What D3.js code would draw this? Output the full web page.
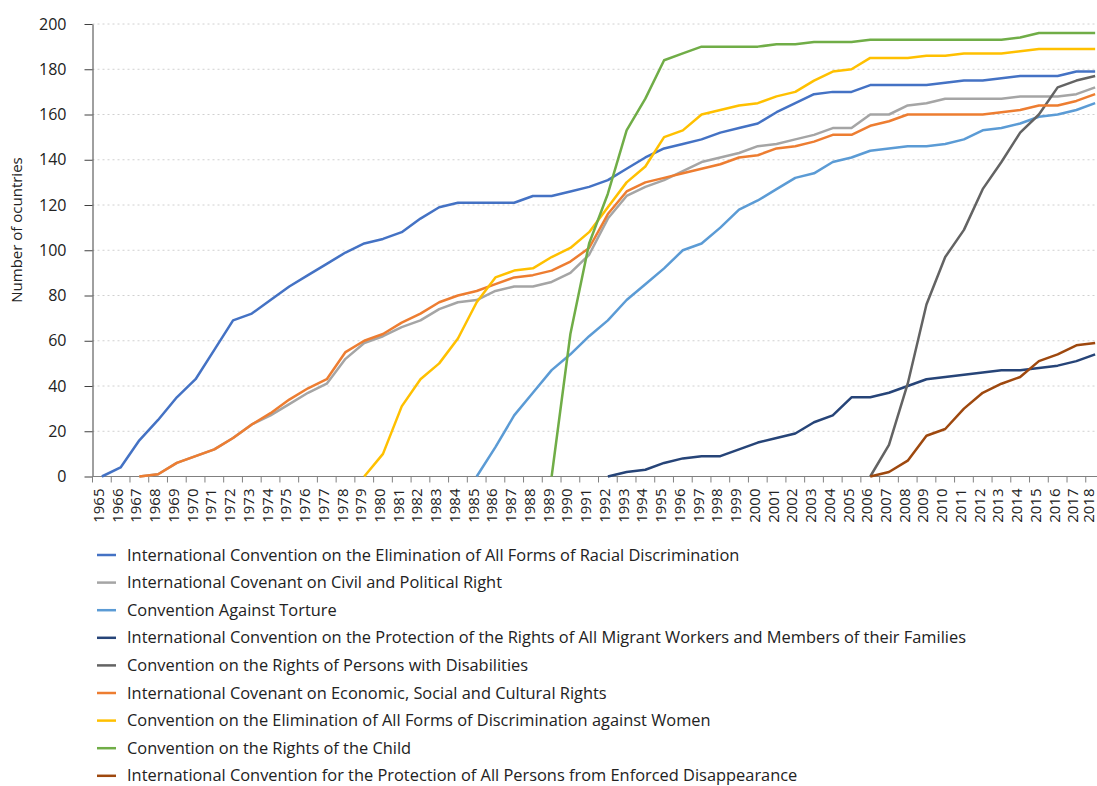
<!DOCTYPE html>
<html>
<head>
<meta charset="utf-8">
<script src="https://cdn.jsdelivr.net/npm/d3@7"></script>
<style>
  body { margin: 0; background: #fff; }
  svg { display: block; font-family: "Open Sans", "Liberation Sans", Arial, sans-serif; }
</style>
</head>
<body>
<div class="chart-container"></div>
<script>
// years on the category axis
const years = d3.range(1965, 2019);
const yTicks = [0, 20, 40, 60, 80, 100, 120, 140, 160, 180, 200];

// each series: first year, then one value per year
const icerdStart = 1965;
const icerd = [0, 4, 16, 25, 35, 43, 56, 69, 72, 78, 84, 89, 94, 99, 103, 105, 108, 114, 119, 121, 121, 121, 121, 124, 124, 126, 128, 131, 136, 141, 145, 147, 149, 152, 154, 156, 161, 165, 169, 170, 170, 173, 173, 173, 173, 174, 175, 175, 176, 177, 177, 177, 179, 179];
const iccprStart = 1967;
const iccpr = [0, 1, 6, 9, 12, 17, 23, 27, 32, 37, 41, 52, 59, 62, 66, 69, 74, 77, 78, 82, 84, 84, 86, 90, 98, 114, 124, 128, 131, 135, 139, 141, 143, 146, 147, 149, 151, 154, 154, 160, 160, 164, 165, 167, 167, 167, 167, 168, 168, 168, 169, 172];
const catStart = 1985;
const cat = [0, 13, 27, 37, 47, 54, 62, 69, 78, 85, 92, 100, 103, 110, 118, 122, 127, 132, 134, 139, 141, 144, 145, 146, 146, 147, 149, 153, 154, 156, 159, 160, 162, 165];
const icrmwStart = 1992;
const icrmw = [0, 2, 3, 6, 8, 9, 9, 12, 15, 17, 19, 24, 27, 35, 35, 37, 40, 43, 44, 45, 46, 47, 47, 48, 49, 51, 54];
const crpdStart = 2006;
const crpd = [0, 14, 41, 76, 97, 109, 127, 139, 152, 160, 172, 175, 177];
const icescrStart = 1967;
const icescr = [0, 1, 6, 9, 12, 17, 23, 28, 34, 39, 43, 55, 60, 63, 68, 72, 77, 80, 82, 85, 88, 89, 91, 95, 101, 116, 126, 130, 132, 134, 136, 138, 141, 142, 145, 146, 148, 151, 151, 155, 157, 160, 160, 160, 160, 160, 161, 162, 164, 164, 166, 169];
const cedawStart = 1979;
const cedaw = [0, 10, 31, 43, 50, 61, 77, 88, 91, 92, 97, 101, 108, 119, 130, 137, 150, 153, 160, 162, 164, 165, 168, 170, 175, 179, 180, 185, 185, 185, 186, 186, 187, 187, 187, 188, 189, 189, 189, 189];
const crcStart = 1989;
const crc = [0, 63, 103, 125, 153, 167, 184, 187, 190, 190, 190, 190, 191, 191, 192, 192, 192, 193, 193, 193, 193, 193, 193, 193, 193, 194, 196, 196, 196, 196];
const cpedStart = 2006;
const cped = [0, 2, 7, 18, 21, 30, 37, 41, 44, 51, 54, 58, 59];

const seriesNames = [
  "International Convention on the Elimination of All Forms of Racial Discrimination",
  "International Covenant on Civil and Political Right",
  "Convention Against Torture",
  "International Convention on the Protection of the Rights of All Migrant Workers and Members of their Families",
  "Convention on the Rights of Persons with Disabilities",
  "International Covenant on Economic, Social and Cultural Rights",
  "Convention on the Elimination of All Forms of Discrimination against Women",
  "Convention on the Rights of the Child",
  "International Convention for the Protection of All Persons from Enforced Disappearance"
];
const seriesColors = ["#4472C4", "#A5A5A5", "#5B9BD5", "#264478", "#636363", "#ED7D31", "#FFC000", "#70AD47", "#9E480E"];
const seriesStarts = [icerdStart, iccprStart, catStart, icrmwStart, crpdStart, icescrStart, cedawStart, crcStart, cpedStart];
const seriesValues = [icerd, iccpr, cat, icrmw, crpd, icescr, cedaw, crc, cped];

const series = seriesNames.map((name, i) => ({
  name,
  color: seriesColors[i],
  points: seriesValues[i].map((v, j) => ({ year: seriesStarts[i] + j, value: v }))
}));

const width = 1097, height = 786;
const plotLeft = 92.5, plotRight = 1104.5, plotTop = 24, plotBottom = 476.5;

const svg = d3.select(".chart-container").append("svg")
  .attr("width", width)
  .attr("height", height);

const x = d3.scaleBand()
  .domain(years)
  .range([plotLeft, plotRight]);

const y = d3.scaleLinear()
  .domain([0, 200])
  .range([plotBottom, plotTop]);

// dotted gridlines
svg.append("g")
  .selectAll("line")
  .data(yTicks.filter(d => d > 0))
  .enter()
  .append("line")
  .attr("x1", plotLeft)
  .attr("x2", width)
  .attr("y1", d => y(d))
  .attr("y2", d => y(d))
  .attr("stroke", "#d0d0d0")
  .attr("stroke-width", 1)
  .attr("stroke-dasharray", "2,3");

// y axis
const yAxis = svg.append("g")
  .attr("transform", `translate(${plotLeft},0)`)
  .call(d3.axisLeft(y).tickValues(yTicks).tickSize(8).tickSizeOuter(0).tickPadding(18));
yAxis.select(".domain").attr("stroke", "#404040");
yAxis.selectAll(".tick line").attr("stroke", "#404040");
yAxis.selectAll("text").attr("font-size", 16).attr("fill", "#222").attr("font-family", "Open Sans");

// x axis: ticks between categories
const xAxisG = svg.append("g")
  .attr("transform", `translate(0,${y(0)})`);
xAxisG.append("line")
  .attr("x1", plotLeft)
  .attr("x2", width)
  .attr("stroke", "#808080")
  .attr("stroke-width", 1.2);
xAxisG.selectAll(".tick-mark")
  .data(years)
  .enter()
  .append("line")
  .attr("class", "tick-mark")
  .attr("x1", d => x(d))
  .attr("x2", d => x(d))
  .attr("y1", 0)
  .attr("y2", 6)
  .attr("stroke", "#808080");
xAxisG.selectAll(".tick-label")
  .data(years)
  .enter()
  .append("text")
  .attr("class", "tick-label")
  .attr("transform", d => `translate(${Math.min(x(d) + x.bandwidth() / 2 + 2, width - 3)},12) rotate(-90)`)
  .attr("text-anchor", "end")
  .attr("font-size", 15)
  .attr("fill", "#222")
  .text(d => d);

// y axis title
svg.append("text")
  .attr("transform", `translate(22,230) rotate(-90)`)
  .attr("text-anchor", "middle")
  .attr("font-size", 15)
  .attr("fill", "#222")
  .text("Number of ocuntries");

// lines
const line = d3.line()
  .x(d => x(d.year) + x.bandwidth() / 2)
  .y(d => y(d.value));

svg.append("g")
  .selectAll("path")
  .data(series)
  .enter()
  .append("path")
  .attr("fill", "none")
  .attr("stroke", d => d.color)
  .attr("stroke-width", 2.5)
  .attr("stroke-linejoin", "round")
  .attr("d", d => line(d.points));

// legend
const legend = svg.append("g")
  .attr("transform", "translate(97,555)");

const legendItems = legend.selectAll("g")
  .data(series)
  .enter()
  .append("g")
  .attr("transform", (d, i) => `translate(0,${i * 27.6})`);

legendItems.append("line")
  .attr("x1", 0)
  .attr("x2", 19)
  .attr("stroke", d => d.color)
  .attr("stroke-width", 2.5);

legendItems.append("text")
  .attr("x", 30)
  .attr("y", 5.5)
  .attr("font-size", 16.4)
  .attr("fill", "#222")
  .text(d => d.name);
</script>
</body>
</html>
